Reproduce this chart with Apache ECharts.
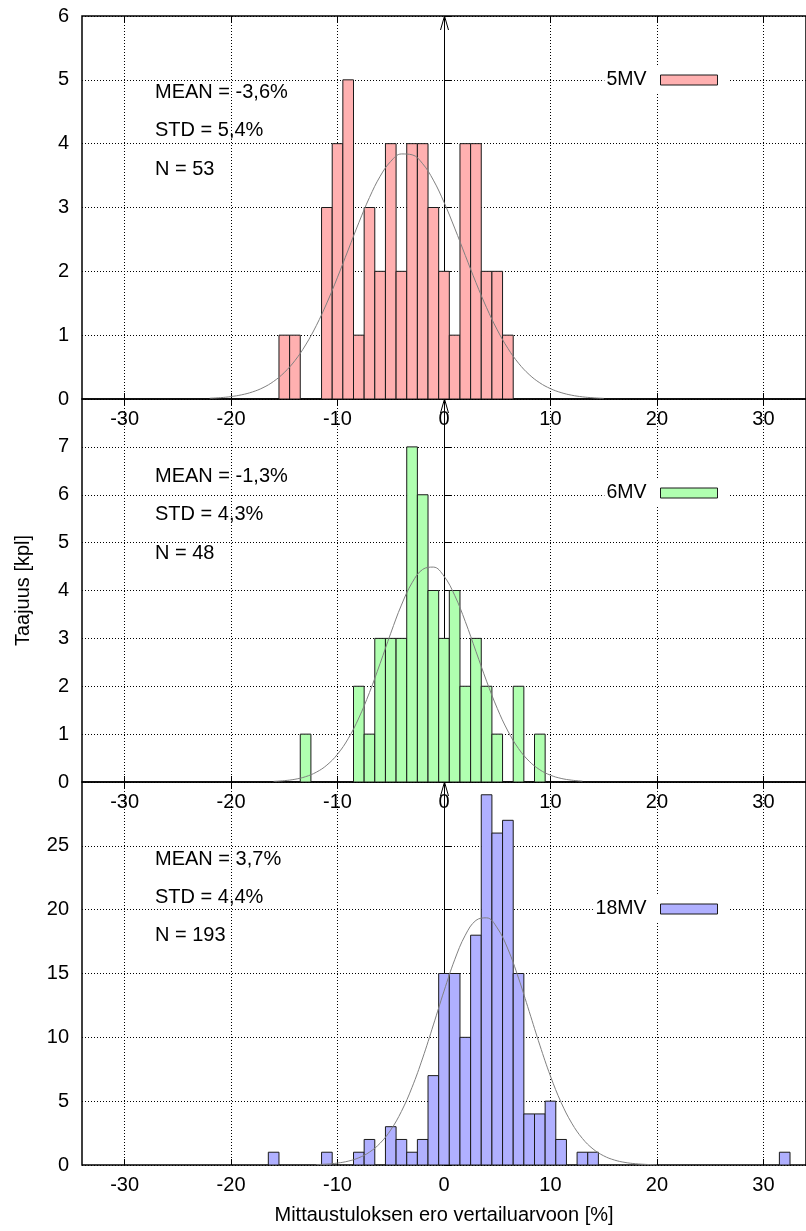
<!DOCTYPE html>
<html><head><meta charset="utf-8">
<script src="https://cdn.jsdelivr.net/npm/echarts@6/dist/echarts.min.js"></script>
<style>html,body{margin:0;padding:0;background:#fff}#c{width:806px;height:1231px}</style>
</head><body><div id="c"></div>
<script>
// ---- data ----
const xTickValues = [-30, -20, -10, 0, 10, 20, 30];
const seriesNames = ['5MV', '6MV', '18MV'];
const statsText = [
  ['MEAN = -3,6%', 'STD = 5,4%', 'N = 53'],
  ['MEAN = -1,3%', 'STD = 4,3%', 'N = 48'],
  ['MEAN = 3,7%', 'STD = 4,4%', 'N = 193']
];
const xTitle = 'Mittaustuloksen ero vertailuarvoon [%]';
const yTitle = 'Taajuus [kpl]';

// histogram bins (bin centre, %) and counts
const bins5 = [-15, -14, -11, -10, -9, -8, -7, -6, -5, -4, -3, -2, -1, 0, 1, 2, 3, 4, 5, 6];
const counts5 = [1, 1, 3, 4, 5, 1, 3, 2, 4, 2, 4, 4, 3, 2, 1, 4, 4, 2, 2, 1];
const bins6 = [-13, -8, -7, -6, -5, -4, -3, -2, -1, 0, 1, 2, 3, 4, 5, 7, 9];
const counts6 = [1, 2, 1, 3, 3, 3, 7, 6, 4, 3, 4, 2, 3, 2, 1, 2, 1];
const bins18 = [-16, -11, -8, -7, -5, -4, -3, -2, -1, 0, 1, 2, 3, 4, 5, 6, 7, 8, 9, 10, 11, 13, 14, 32];
const counts18 = [1, 1, 1, 2, 3, 2, 1, 2, 7, 15, 15, 10, 18, 29, 26, 27, 15, 4, 4, 5, 2, 1, 1, 1];
const binWidth = 1;

// fitted normal curves
const curveX5 = [-22,-21,-20,-19,-18,-17,-16,-15,-14,-13,-12,-11,-10,-9,-8,-7,-6,-5,-4,-3,-2,-1,0,1,2,3,4,5,6,7,8,9,10,11,12,13,14,15];
const curveY5 = [0.012,0.021,0.038,0.066,0.110,0.177,0.276,0.415,0.602,0.846,1.148,1.505,1.908,2.335,2.762,3.157,3.488,3.723,3.839,3.826,3.685,3.429,3.083,2.678,2.249,1.824,1.430,1.083,0.793,0.561,0.383,0.253,0.162,0.100,0.059,0.034,0.019,0.010];
const curveX6 = [-16,-15,-14,-13,-12,-11,-10,-9,-8,-7,-6,-5,-4,-3,-2,-1,0,1,2,3,4,5,6,7,8,9,10,11,12,13];
const curveY6 = [0.013,0.028,0.057,0.111,0.204,0.353,0.581,0.905,1.337,1.869,2.476,3.108,3.695,4.161,4.441,4.489,4.299,3.900,3.352,2.729,2.106,1.539,1.065,0.698,0.434,0.255,0.142,0.075,0.038,0.018];
const curveX18 = [-12,-11,-10,-9,-8,-7,-6,-5,-4,-3,-2,-1,0,1,2,3,4,5,6,7,8,9,10,11,12,13,14,15,16,17,18,19,20];
const curveY18 = [0.033,0.073,0.152,0.301,0.566,1.009,1.707,2.747,4.196,6.086,8.383,10.97,13.62,16.07,18.00,19.16,19.36,18.57,16.92,14.64,12.03,9.39,6.96,4.90,3.275,2.078,1.253,0.718,0.390,0.201,0.099,0.046,0.020];

const referenceX = [0];
const xRange = [-34, 34];
const yMax = [6, 8, 30];
const yInterval = [1, 1, 5];

// ---- styling / layout ----
const FONT = '"Liberation Sans", Arial, Helvetica, sans-serif';
const fills = ['#ffb0b0', '#b0ffb0', '#b0b0ff'];
const gridTops = [16, 399, 782];
const gridH = 383;
const legendTops = [67, 480, 896];
const statFirstY = [92.7, 476.7, 859.3];
const statStep = 38.2;

const binsAll = [bins5, bins6, bins18];
const countsAll = [counts5, counts6, counts18];
const curveXAll = [curveX5, curveX6, curveX18];
const curveYAll = [curveY5, curveY6, curveY18];

const chart = echarts.init(document.getElementById('c'), null, {renderer: 'canvas'});

const grids = gridTops.map(t => ({
  left: 82, width: 730, top: t, height: gridH,
  show: true, borderColor: '#000', borderWidth: 1.5, backgroundColor: 'transparent'
}));

const xAxes = [];
gridTops.forEach((t, i) => {
  ['bottom', 'top'].forEach(pos => {
    const isBottom = pos === 'bottom';
    const ax = {
      type: 'value', gridIndex: i, position: pos, min: xRange[0], max: xRange[1],
      axisLine: {show: false},
      axisTick: {show: true, inside: true, length: 6, customValues: xTickValues,
        lineStyle: {color: '#000', width: 1}},
      axisLabel: {show: isBottom, customValues: xTickValues, margin: 10,
        fontSize: 20, color: '#000', fontFamily: FONT},
      splitLine: {show: isBottom, lineStyle: {type: [1, 2], color: '#000', width: 1}}
    };
    if (i === 2 && isBottom) {
      ax.name = xTitle;
      ax.nameLocation = 'middle';
      ax.nameGap = 40;
      ax.nameTextStyle = {fontSize: 20, color: '#000', fontFamily: FONT};
    }
    xAxes.push(ax);
  });
});

const yAxes = gridTops.map((t, i) => {
  const ax = {
    type: 'value', gridIndex: i, min: 0, max: yMax[i], interval: yInterval[i],
    axisLine: {show: false},
    axisTick: {show: true, inside: true, length: 7, lineStyle: {color: '#000', width: 1}},
    axisLabel: {margin: 13, fontSize: 20, color: '#000', fontFamily: FONT,
      showMaxLabel: i === 0, showMinLabel: true},
    splitLine: {show: true, lineStyle: {type: [1, 2], color: '#000', width: 1}}
  };
  if (i === 1) {
    ax.name = yTitle;
    ax.nameLocation = 'middle';
    ax.nameGap = 49;
    ax.nameTextStyle = {fontSize: 20, color: '#000', fontFamily: FONT};
  }
  return ax;
});

function makeBarRenderer(fill) {
  return function (params, api) {
    const x = api.value(0), y = api.value(1);
    const p1 = api.coord([x - binWidth / 2, y]);
    const p2 = api.coord([x + binWidth / 2, 0]);
    return {
      type: 'rect',
      shape: {x: p1[0], y: p1[1], width: p2[0] - p1[0], height: p2[1] - p1[1]},
      style: {fill: fill, stroke: '#1a1a1a', lineWidth: 1}
    };
  };
}

function renderArrow(params, api) {
  const base = api.coord([api.value(0), 0]);
  const topY = params.coordSys.y;
  const x = Math.round(base[0]) + 0.5;
  return {
    type: 'group',
    children: [
      {type: 'line', shape: {x1: x, y1: base[1], x2: x, y2: topY}, style: {stroke: '#000', lineWidth: 1}},
      {type: 'polyline', shape: {points: [[x - 4, topY + 14], [x, topY], [x + 4, topY + 14]]},
        style: {stroke: '#000', lineWidth: 1, fill: null}}
    ]
  };
}

const series = [];
gridTops.forEach((t, i) => {
  series.push({
    type: 'custom', name: '__ref' + i, xAxisIndex: 2 * i, yAxisIndex: i, z: 2,
    renderItem: renderArrow, data: referenceX.map(v => [v]), silent: true, clip: false
  });
  series.push({
    type: 'custom', name: seriesNames[i], xAxisIndex: 2 * i, yAxisIndex: i, z: 3,
    itemStyle: {color: fills[i], borderColor: '#1a1a1a', borderWidth: 1},
    renderItem: makeBarRenderer(fills[i]),
    data: binsAll[i].map((b, k) => [b, countsAll[i][k]]), clip: true
  });
  series.push({
    type: 'line', xAxisIndex: 2 * i, yAxisIndex: i, z: 4,
    data: curveXAll[i].map((x, k) => [x, curveYAll[i][k]]),
    smooth: 0.4, showSymbol: false, symbol: 'none',
    lineStyle: {color: '#808080', width: 1}, silent: true
  });
});

const legends = seriesNames.map((name, i) => ({
  data: [name], right: 76, top: legendTops[i], orient: 'horizontal', align: 'right',
  icon: 'rect', itemWidth: 57, itemHeight: 10, backgroundColor: '#fff',
  padding: [3, 12, 3, 2], selectedMode: false,
  textStyle: {fontSize: 19.5, color: '#000', fontFamily: FONT, padding: [0, 9, 0, 0]},
  itemStyle: {color: fills[i], borderColor: '#1a1a1a', borderWidth: 1}
}));

const graphics = [];
statsText.forEach((lines, i) => {
  lines.forEach((txt, j) => {
    graphics.push({
      type: 'text', x: 155, y: statFirstY[i] + j * statStep, z: 10,
      style: {text: txt, fill: '#000', font: '20px ' + FONT, verticalAlign: 'middle', align: 'left'}
    });
  });
});

chart.setOption({
  animation: false,
  backgroundColor: '#fff',
  grid: grids,
  xAxis: xAxes,
  yAxis: yAxes,
  legend: legends,
  series: series,
  graphic: graphics
});
</script>
</body></html>
